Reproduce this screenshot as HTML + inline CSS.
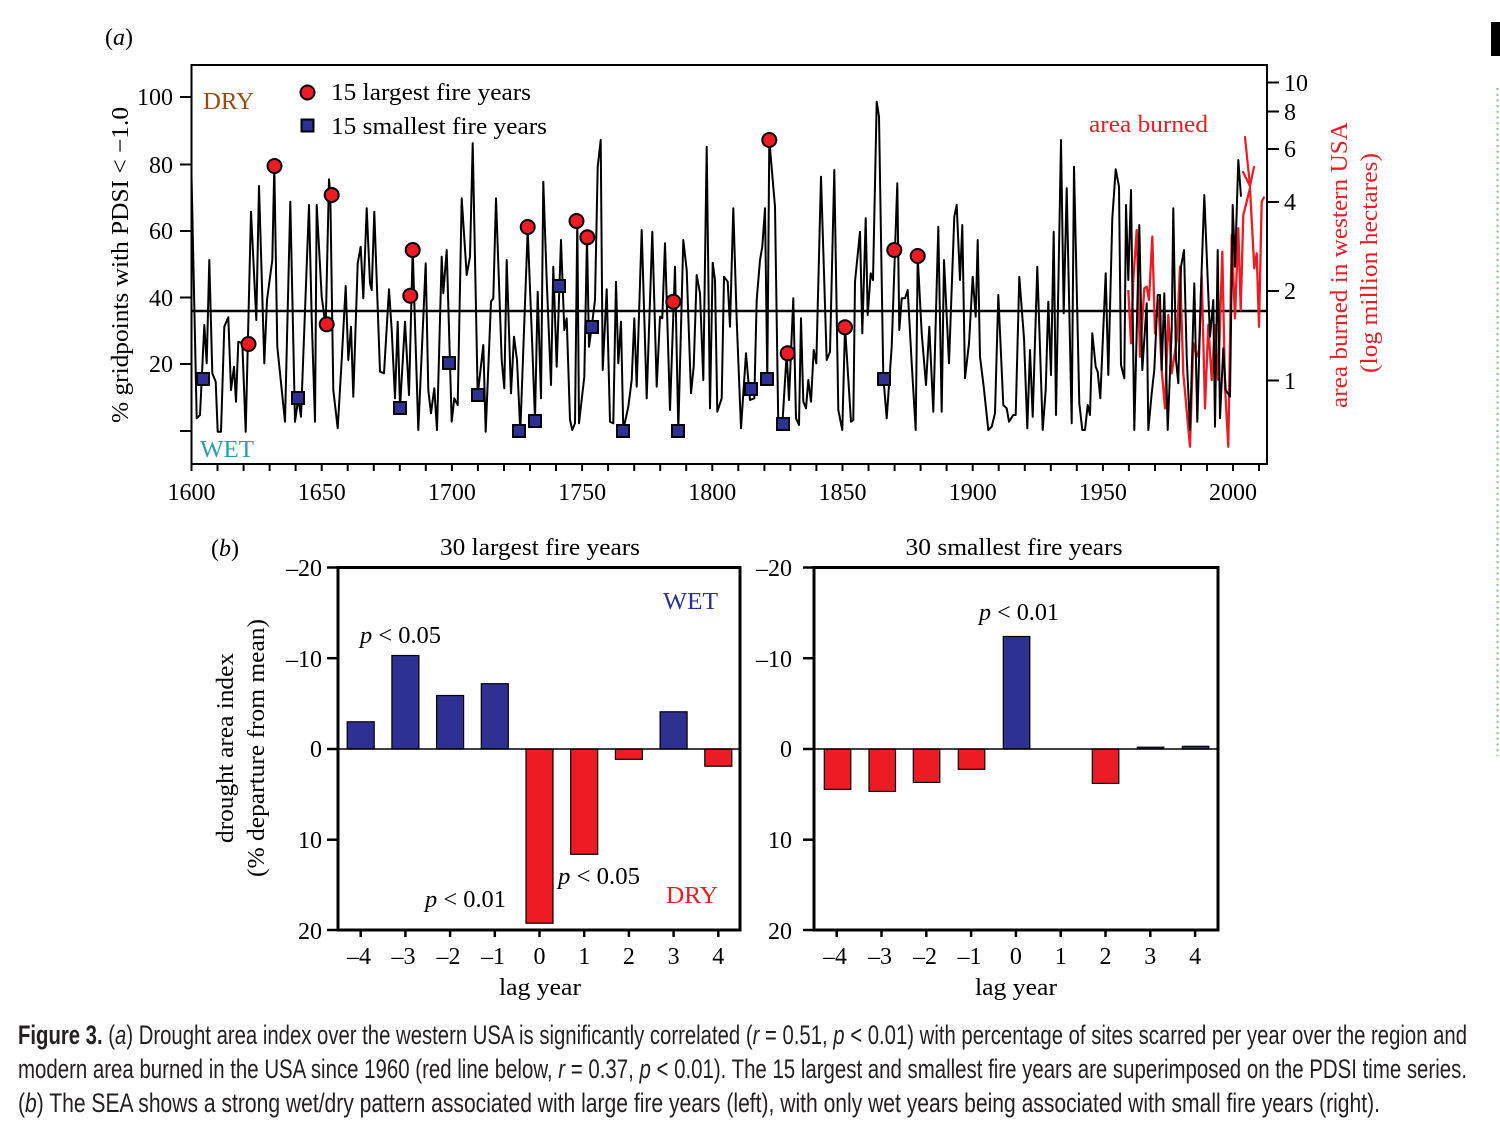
<!DOCTYPE html>
<html>
<head>
<meta charset="utf-8">
<style>
html,body{margin:0;padding:0;background:#fff;}
svg{display:block;}
.serif{font-family:"Liberation Serif","Times New Roman",serif;}
.cap{font-family:"Liberation Sans Narrow","Liberation Sans",sans-serif;fill:#231f20;}
</style>
</head>
<body>
<svg width="1500" height="1146" viewBox="0 0 1500 1146" xmlns="http://www.w3.org/2000/svg">
<rect x="0" y="0" width="1500" height="1146" fill="#fff"/>

<!-- top-right artifacts -->
<rect x="1491" y="22" width="9" height="34" fill="#000"/>
<line x1="1497.5" y1="88" x2="1497.5" y2="756" stroke="#7cc47c" stroke-width="2" stroke-dasharray="2 3.7"/>

<g class="serif">
<!-- ============ PANEL A ============ -->
<text x="105" y="45" font-size="24" fill="#000">(<tspan font-style="italic">a</tspan>)</text>

<!-- frame -->
<rect x="191.5" y="65" width="1075.5" height="399" fill="none" stroke="#000" stroke-width="2"/>

<!-- left y ticks -->
<g stroke="#000" stroke-width="2">
<line x1="180" y1="97" x2="191" y2="97"/>
<line x1="180" y1="164.5" x2="191" y2="164.5"/>
<line x1="180" y1="231" x2="191" y2="231"/>
<line x1="180" y1="297.5" x2="191" y2="297.5"/>
<line x1="180" y1="364" x2="191" y2="364"/>
<line x1="180" y1="431" x2="191" y2="431"/>
</g>
<g font-size="24" fill="#000" text-anchor="end">
<text x="173" y="105">100</text>
<text x="173" y="173">80</text>
<text x="173" y="239">60</text>
<text x="173" y="306">40</text>
<text x="173" y="372">20</text>
</g>

<!-- bottom x ticks every 10 years -->
<g stroke="#000" stroke-width="2">
<line x1="191.5" y1="464" x2="191.5" y2="471"/><line x1="217.5" y1="464" x2="217.5" y2="471"/><line x1="243.6" y1="464" x2="243.6" y2="471"/><line x1="269.6" y1="464" x2="269.6" y2="471"/><line x1="295.6" y1="464" x2="295.6" y2="471"/><line x1="321.7" y1="464" x2="321.7" y2="471"/><line x1="347.7" y1="464" x2="347.7" y2="471"/><line x1="373.8" y1="464" x2="373.8" y2="471"/><line x1="399.8" y1="464" x2="399.8" y2="471"/><line x1="425.8" y1="464" x2="425.8" y2="471"/><line x1="451.9" y1="464" x2="451.9" y2="471"/><line x1="477.9" y1="464" x2="477.9" y2="471"/><line x1="504" y1="464" x2="504" y2="471"/><line x1="530" y1="464" x2="530" y2="471"/><line x1="556" y1="464" x2="556" y2="471"/><line x1="582.1" y1="464" x2="582.1" y2="471"/><line x1="608.1" y1="464" x2="608.1" y2="471"/><line x1="634.2" y1="464" x2="634.2" y2="471"/><line x1="660.2" y1="464" x2="660.2" y2="471"/><line x1="686.2" y1="464" x2="686.2" y2="471"/><line x1="712.3" y1="464" x2="712.3" y2="471"/><line x1="738.3" y1="464" x2="738.3" y2="471"/><line x1="764.4" y1="464" x2="764.4" y2="471"/><line x1="790.4" y1="464" x2="790.4" y2="471"/><line x1="816.4" y1="464" x2="816.4" y2="471"/><line x1="842.5" y1="464" x2="842.5" y2="471"/><line x1="868.5" y1="464" x2="868.5" y2="471"/><line x1="894.6" y1="464" x2="894.6" y2="471"/><line x1="920.6" y1="464" x2="920.6" y2="471"/><line x1="946.6" y1="464" x2="946.6" y2="471"/><line x1="972.7" y1="464" x2="972.7" y2="471"/><line x1="998.7" y1="464" x2="998.7" y2="471"/><line x1="1024.8" y1="464" x2="1024.8" y2="471"/><line x1="1050.8" y1="464" x2="1050.8" y2="471"/><line x1="1076.8" y1="464" x2="1076.8" y2="471"/><line x1="1102.9" y1="464" x2="1102.9" y2="471"/><line x1="1128.9" y1="464" x2="1128.9" y2="471"/><line x1="1155" y1="464" x2="1155" y2="471"/><line x1="1181" y1="464" x2="1181" y2="471"/><line x1="1207" y1="464" x2="1207" y2="471"/><line x1="1233" y1="464" x2="1233" y2="471"/><line x1="1259" y1="464" x2="1259" y2="471"/>
</g>
<g font-size="24" fill="#000" text-anchor="middle">
<text x="191.5" y="500">1600</text>
<text x="321.7" y="500">1650</text>
<text x="451.9" y="500">1700</text>
<text x="582.1" y="500">1750</text>
<text x="712.3" y="500">1800</text>
<text x="842.5" y="500">1850</text>
<text x="972.7" y="500">1900</text>
<text x="1102.9" y="500">1950</text>
<text x="1233" y="500">2000</text>
</g>

<!-- right axis ticks -->
<g stroke="#000" stroke-width="2">
<line x1="1267" y1="82.5" x2="1279" y2="82.5"/>
<line x1="1267" y1="111.5" x2="1279" y2="111.5"/>
<line x1="1267" y1="149" x2="1279" y2="149"/>
<line x1="1267" y1="202" x2="1279" y2="202"/>
<line x1="1267" y1="291" x2="1279" y2="291"/>
<line x1="1267" y1="380.5" x2="1279" y2="380.5"/>
</g>
<g font-size="24" fill="#000">
<text x="1284" y="91">10</text>
<text x="1284" y="120">8</text>
<text x="1284" y="157">6</text>
<text x="1284" y="210">4</text>
<text x="1284" y="299">2</text>
<text x="1284" y="389">1</text>
</g>

<!-- axis labels -->
<text transform="translate(128,265) rotate(-90)" font-size="24" fill="#000" text-anchor="middle" textLength="316" lengthAdjust="spacingAndGlyphs">% gridpoints with PDSI &lt; −1.0</text>
<text transform="translate(1347,265) rotate(-90)" font-size="24" fill="#ed1c24" text-anchor="middle" textLength="286" lengthAdjust="spacingAndGlyphs">area burned in western USA</text>
<text transform="translate(1377,263) rotate(-90)" font-size="24" fill="#ed1c24" text-anchor="middle" textLength="220" lengthAdjust="spacingAndGlyphs">(log million hectares)</text>

<!-- annotations -->
<text x="203" y="109" font-size="24" fill="#9c4a12" textLength="51" lengthAdjust="spacingAndGlyphs">DRY</text>
<text x="200" y="457" font-size="24" fill="#2a9db0" textLength="54" lengthAdjust="spacingAndGlyphs">WET</text>
<text x="1089" y="132" font-size="24" fill="#ed1c24" textLength="119" lengthAdjust="spacingAndGlyphs">area burned</text>

<!-- legend -->
<circle cx="307.5" cy="92.5" r="7" fill="#ed1c24" stroke="#000" stroke-width="2"/>
<text x="331" y="100" font-size="24" fill="#000" textLength="200" lengthAdjust="spacingAndGlyphs">15 largest fire years</text>
<rect x="301.5" y="119.5" width="12" height="12" fill="#2e3192" stroke="#000" stroke-width="2"/>
<text x="331" y="134" font-size="24" fill="#000" textLength="216" lengthAdjust="spacingAndGlyphs">15 smallest fire years</text>

<!-- mean line -->
<line x1="191.5" y1="311" x2="1267" y2="311" stroke="#000" stroke-width="2.5"/>

<!-- red area burned series -->
<polyline fill="none" stroke="#ed1c24" stroke-width="2.3" stroke-linejoin="round" points="1128.3,290 1131,343.3 1133.3,280 1136.7,230 1140,356.7 1144.3,288.3 1146.7,286.7 1149,300 1152.3,236.7 1155,333.3 1158.3,300 1161.7,370 1165,408.3 1168.3,315 1171.7,373.3 1176.7,340 1180,266.7 1183.3,373.3 1188.3,428.3 1190,446.7 1193.3,343.3 1196.7,356.7 1199,350 1201.7,275 1205,408.3 1208.3,325 1211.7,380 1215,325 1218.3,380 1222.3,251.7 1225,386.7 1228.3,446.7 1231.7,235 1235,318.3 1238.3,228.3 1240.7,310 1243.3,215 1246.7,201.7 1250,188.3 1254.3,268.3 1256.7,253.3 1259,326.7 1261.7,201.7 1264.3,196.7"/>
<!-- arrow -->
<g stroke="#ed1c24" stroke-width="2.2" fill="none" stroke-linecap="round">
<line x1="1245" y1="137" x2="1250" y2="186"/>
<polyline points="1243,172 1250,186 1254,167"/>
</g>

<!-- black PDSI series -->
<polyline fill="none" stroke="#000" stroke-width="2" stroke-linejoin="round" points="191.5,175 196.7,418.3 200,415 204.3,325 206.7,363.3 209.3,260 212.3,373.3 215.7,381.7 217.7,431.7 221,431.7 224.3,326.7 228.3,317.3 231,390 234,366.7 236,401.7 238.3,341.7 242.3,343.3 245.7,431.7 251,211.7 255,293.3 256.3,320 259,186 264.3,363.3 267,300 272.3,260 274.3,166.7 277.3,346.7 285,421.7 290.3,201.7 295,421.7 298.3,398.3 301,416.7 309,205 311.7,318.3 315,421.7 316.7,205 321.7,296.7 325.7,326.7 329,179.3 330.3,195 333.3,390 337.7,428.3 341.7,360 345.7,286 348.3,360 351,326.7 353.3,396.7 357.7,263.3 360.7,246.7 363.3,298.3 366.7,208.3 370,283.3 371.7,290 374.3,211.7 376.7,280 380,371.7 384,373.3 389,289.3 391.7,330 395,398.3 397.7,321.7 400,408.3 405,321.7 409,395 412.7,250 415.7,346.7 418.3,430 425.7,263.3 428.3,390 431,413.3 434.3,388.3 437,430 441.7,256.7 443.3,293.3 446.7,250 450,363.3 451.7,421.7 454.3,398.3 457.7,405 461.7,198.3 466.7,275 470,256.7 472.7,143.3 477.7,395 483.3,345 485.7,431.7 491,301.7 493.3,298.3 496,198.3 501.7,360 504.3,388.3 506.7,260 511,393.3 514,336.7 517,360 520.3,431.7 527.7,230 532.3,346.7 535,420 537.7,291.7 541,398.3 543.3,181.7 546.7,280 551,385 553.3,266.7 556.7,366.7 561,240 564.3,330 566.7,318.3 570,420 572.3,430 575,423.3 577.3,220 579,423.3 584.3,376.7 587,236.7 589,346.7 591.7,326.7 595,300 597.7,166.7 600.7,140 602.7,370 606.7,289.3 610,421.7 613.3,423.3 616,281.7 618.3,363.3 621,321.7 623.3,430 628.3,406.7 631.7,380 634.3,318.3 636.7,386.7 641.7,230 646.7,398.3 652.3,231.7 656.7,386.7 660,316.7 662.3,318.3 665,243.3 670,410 675,266.7 678.3,430 683.3,240 686.7,270 691,393.3 693.7,366.7 696.7,275 700,293.3 703.3,380 706.7,146.7 710,408.3 712.7,262.7 715,280 717.3,411.7 721.7,398.3 724,276.7 727.7,281.7 730,326.7 733.3,208.3 736.7,320 741,428.3 746,353.3 750,400 754.3,398.3 756.7,300 760,260 762.3,246.7 765,208.3 767.3,378.3 769.3,140 775,206.7 778.3,425 782.3,425 786.7,353.3 789,400 793.3,298.3 796,418.3 799,425 801,318.3 803.3,401.7 806,408.3 808.3,380 811,401.7 813.7,350 816.3,363.3 821,176.7 826.7,360 830,351.7 834.3,170 838.3,410 842.3,430 845,326.7 851,421.7 853.3,420 855,281.7 860,231.7 862.3,333.3 865.7,218.3 867.7,315 870.7,273.3 873,280 876.7,101.7 879,116.7 883.3,376.7 886.7,418.3 891.7,346.7 895,250 897.3,183.3 899.3,330 901.7,298.3 905,298.3 907.7,290 911.7,363.3 915.7,430 917.7,256.7 921.7,333.3 926,385 929.3,326.7 933.3,411.7 938.3,226.7 941.7,411.7 944,260 949,363.3 954.3,216.7 956.7,205 960,280 962.3,225 965,378.3 969,343.3 972.7,276.7 975.7,316.7 977.7,240 980,356.7 983.7,386.7 988.3,430 991.7,426.7 995,413.3 998.3,295 1003.3,405 1006.7,408.3 1009,421.7 1013.3,415 1015.7,415 1019.3,276.7 1024,338.3 1027.3,428.3 1030,350 1032.7,416.7 1037.3,266.7 1042.7,430 1045.7,390 1048.3,301.7 1051,375 1053.7,231.7 1056,415 1061,140 1063.7,313.3 1066.7,188.3 1071.7,423.3 1074,166.7 1079.3,403.3 1082.3,430 1085,430 1087.7,405 1090,415 1092.3,333.3 1095.7,366.7 1097.7,371.7 1100.3,398.3 1105.7,273.3 1108.3,375 1112.3,218.3 1115.7,169.3 1119,186.7 1121,365 1124.3,378.3 1126,205 1128.3,280 1131,190 1134.3,430 1139.3,225 1142.3,370 1146.7,303.3 1148.3,430 1151.7,393.3 1154.3,370 1157.7,295 1160,295 1161.7,370 1164.3,293.3 1167.7,430 1171.7,330 1173.3,208.3 1176,360 1178.3,383.3 1181,266.7 1184,250 1186.7,356.7 1190,430 1194.3,283.3 1197.3,421.7 1201,288.3 1204.3,195 1210,336.7 1213.3,300 1215,426.7 1217.7,250 1220,418.3 1223.3,348.3 1225.7,390 1230,396.7 1232.7,205 1235,266.7 1238.3,160 1241,196.7"/>

<!-- blue squares (smallest fire years) -->
<g fill="#2e3192" stroke="#000" stroke-width="2">
<rect x="197" y="373" width="12" height="12"/>
<rect x="292" y="392" width="12" height="12"/>
<rect x="394" y="402" width="12" height="12"/>
<rect x="443" y="357" width="12" height="12"/>
<rect x="472" y="389" width="12" height="12"/>
<rect x="513" y="425" width="12" height="12"/>
<rect x="529" y="415" width="12" height="12"/>
<rect x="553" y="280" width="12" height="12"/>
<rect x="586" y="321" width="12" height="12"/>
<rect x="617" y="425" width="12" height="12"/>
<rect x="672" y="425" width="12" height="12"/>
<rect x="745" y="383" width="12" height="12"/>
<rect x="761" y="373" width="12" height="12"/>
<rect x="777" y="418" width="12" height="12"/>
<rect x="878" y="373" width="12" height="12"/>
</g>
<!-- red circles (largest fire years) -->
<g fill="#ed1c24" stroke="#000" stroke-width="2">
<circle cx="274.5" cy="166" r="7"/>
<circle cx="248.5" cy="344" r="7"/>
<circle cx="331.7" cy="195" r="7"/>
<circle cx="326.7" cy="324.3" r="7"/>
<circle cx="412.7" cy="250" r="7"/>
<circle cx="410.3" cy="295.7" r="7"/>
<circle cx="527.7" cy="227" r="7"/>
<circle cx="576.5" cy="221" r="7"/>
<circle cx="587.3" cy="237.3" r="7"/>
<circle cx="673.3" cy="301.7" r="7"/>
<circle cx="769.3" cy="140" r="7"/>
<circle cx="787.7" cy="353.3" r="7"/>
<circle cx="845" cy="327.3" r="7"/>
<circle cx="894.3" cy="250" r="7"/>
<circle cx="917.7" cy="256" r="7"/>
</g>

<!-- ============ PANEL B ============ -->
<text x="211" y="556" font-size="24" fill="#000">(<tspan font-style="italic">b</tspan>)</text>

<text x="540" y="555" font-size="24" fill="#000" text-anchor="middle" textLength="200" lengthAdjust="spacingAndGlyphs">30 largest fire years</text>
<text x="1014" y="555" font-size="24" fill="#000" text-anchor="middle" textLength="217" lengthAdjust="spacingAndGlyphs">30 smallest fire years</text>

<text transform="translate(233,748) rotate(-90)" font-size="24" fill="#000" text-anchor="middle" textLength="190" lengthAdjust="spacingAndGlyphs">drought area index</text>
<text transform="translate(264,748) rotate(-90)" font-size="24" fill="#000" text-anchor="middle" textLength="258" lengthAdjust="spacingAndGlyphs">(% departure from mean)</text>

<!-- left panel bars -->
<g stroke="#000" stroke-width="1.2">
<rect x="347.2" y="721.8" width="27" height="27.2" fill="#2e3192"/>
<rect x="391.9" y="655.5" width="27" height="93.5" fill="#2e3192"/>
<rect x="436.6" y="695.5" width="27" height="53.5" fill="#2e3192"/>
<rect x="481.3" y="683.7" width="27" height="65.3" fill="#2e3192"/>
<rect x="526" y="749" width="27" height="174.2" fill="#ed1c24"/>
<rect x="570.7" y="749" width="27" height="105.3" fill="#ed1c24"/>
<rect x="615.4" y="749" width="27" height="10.3" fill="#ed1c24"/>
<rect x="660.1" y="711.8" width="27" height="37.2" fill="#2e3192"/>
<rect x="704.8" y="749" width="27" height="17.2" fill="#ed1c24"/>
</g>
<line x1="338" y1="749" x2="740" y2="749" stroke="#000" stroke-width="1.5"/>
<rect x="338" y="567.5" width="402" height="362.5" fill="none" stroke="#000" stroke-width="3"/>

<!-- left panel ticks -->
<g stroke="#000" stroke-width="2.5">
<line x1="327" y1="567.5" x2="338" y2="567.5"/>
<line x1="327" y1="658.2" x2="338" y2="658.2"/>
<line x1="327" y1="749" x2="338" y2="749"/>
<line x1="327" y1="839.7" x2="338" y2="839.7"/>
<line x1="327" y1="930" x2="338" y2="930"/>
<line x1="360.7" y1="930" x2="360.7" y2="937"/>
<line x1="405.4" y1="930" x2="405.4" y2="937"/>
<line x1="450.1" y1="930" x2="450.1" y2="937"/>
<line x1="494.8" y1="930" x2="494.8" y2="937"/>
<line x1="539.5" y1="930" x2="539.5" y2="937"/>
<line x1="584.2" y1="930" x2="584.2" y2="937"/>
<line x1="628.9" y1="930" x2="628.9" y2="937"/>
<line x1="673.6" y1="930" x2="673.6" y2="937"/>
<line x1="718.3" y1="930" x2="718.3" y2="937"/>
</g>
<g font-size="24" fill="#000" text-anchor="end">
<text x="322" y="576">–20</text>
<text x="322" y="667">–10</text>
<text x="322" y="757">0</text>
<text x="322" y="848">10</text>
<text x="322" y="939">20</text>
</g>
<g font-size="24" fill="#000" text-anchor="middle">
<text x="359" y="964">–4</text>
<text x="403.5" y="964">–3</text>
<text x="448.5" y="964">–2</text>
<text x="493" y="964">–1</text>
<text x="539.5" y="964">0</text>
<text x="584.2" y="964">1</text>
<text x="628.9" y="964">2</text>
<text x="673.6" y="964">3</text>
<text x="718.3" y="964">4</text>
</g>
<text x="540" y="995" font-size="24" fill="#000" text-anchor="middle" textLength="82" lengthAdjust="spacingAndGlyphs">lag year</text>

<text x="663" y="609" font-size="24" fill="#2e3192" textLength="55" lengthAdjust="spacingAndGlyphs">WET</text>
<text x="666" y="903" font-size="24" fill="#ed1c24" textLength="52" lengthAdjust="spacingAndGlyphs">DRY</text>
<text x="360" y="643" font-size="24" fill="#000" textLength="81" lengthAdjust="spacingAndGlyphs"><tspan font-style="italic">p</tspan> &lt; 0.05</text>
<text x="425" y="907" font-size="24" fill="#000" textLength="81" lengthAdjust="spacingAndGlyphs"><tspan font-style="italic">p</tspan> &lt; 0.01</text>
<text x="558" y="884" font-size="24" fill="#000" textLength="82" lengthAdjust="spacingAndGlyphs"><tspan font-style="italic">p</tspan> &lt; 0.05</text>

<!-- right panel bars -->
<g stroke="#000" stroke-width="1.2">
<rect x="824.3" y="749" width="26.5" height="40.4" fill="#ed1c24"/>
<rect x="869" y="749" width="26.5" height="42.4" fill="#ed1c24"/>
<rect x="913.3" y="749" width="26.5" height="33.4" fill="#ed1c24"/>
<rect x="958.3" y="749" width="26.5" height="20.3" fill="#ed1c24"/>
<rect x="1003.3" y="636.5" width="26.5" height="112.5" fill="#2e3192"/>
<rect x="1092.3" y="749" width="26.5" height="34.4" fill="#ed1c24"/>
<rect x="1137.3" y="747.2" width="26.5" height="1.8" fill="#2e3192"/>
<rect x="1182.3" y="746.3" width="26.5" height="2.7" fill="#2e3192"/>
</g>
<line x1="814" y1="749" x2="1218" y2="749" stroke="#000" stroke-width="1.5"/>
<rect x="814" y="567.5" width="404" height="362.5" fill="none" stroke="#000" stroke-width="3"/>

<g stroke="#000" stroke-width="2.5">
<line x1="803" y1="567.5" x2="814" y2="567.5"/>
<line x1="803" y1="658.2" x2="814" y2="658.2"/>
<line x1="803" y1="749" x2="814" y2="749"/>
<line x1="803" y1="839.7" x2="814" y2="839.7"/>
<line x1="803" y1="930" x2="814" y2="930"/>
<line x1="836.7" y1="930" x2="836.7" y2="937"/>
<line x1="881.5" y1="930" x2="881.5" y2="937"/>
<line x1="926.3" y1="930" x2="926.3" y2="937"/>
<line x1="971.1" y1="930" x2="971.1" y2="937"/>
<line x1="1015.9" y1="930" x2="1015.9" y2="937"/>
<line x1="1060.7" y1="930" x2="1060.7" y2="937"/>
<line x1="1105.5" y1="930" x2="1105.5" y2="937"/>
<line x1="1150.3" y1="930" x2="1150.3" y2="937"/>
<line x1="1195.1" y1="930" x2="1195.1" y2="937"/>
</g>
<g font-size="24" fill="#000" text-anchor="end">
<text x="792" y="576">–20</text>
<text x="792" y="667">–10</text>
<text x="792" y="757">0</text>
<text x="792" y="848">10</text>
<text x="792" y="939">20</text>
</g>
<g font-size="24" fill="#000" text-anchor="middle">
<text x="835" y="964">–4</text>
<text x="880" y="964">–3</text>
<text x="925" y="964">–2</text>
<text x="969.5" y="964">–1</text>
<text x="1015.9" y="964">0</text>
<text x="1060.7" y="964">1</text>
<text x="1105.5" y="964">2</text>
<text x="1150.3" y="964">3</text>
<text x="1195.1" y="964">4</text>
</g>
<text x="1016" y="995" font-size="24" fill="#000" text-anchor="middle" textLength="82" lengthAdjust="spacingAndGlyphs">lag year</text>
<text x="979" y="620" font-size="24" fill="#000" textLength="80" lengthAdjust="spacingAndGlyphs"><tspan font-style="italic">p</tspan> &lt; 0.01</text>
</g>

<!-- ============ CAPTION ============ -->
<g class="cap" font-size="27">
<text x="18" y="1044" textLength="1449" lengthAdjust="spacingAndGlyphs"><tspan font-weight="bold">Figure 3.</tspan> (<tspan font-style="italic">a</tspan>) Drought area index over the western USA is significantly correlated (<tspan font-style="italic">r</tspan> = 0.51, <tspan font-style="italic">p</tspan> &lt; 0.01) with percentage of sites scarred per year over the region and</text>
<text x="18" y="1078" textLength="1449" lengthAdjust="spacingAndGlyphs">modern area burned in the USA since 1960 (red line below, <tspan font-style="italic">r</tspan> = 0.37, <tspan font-style="italic">p</tspan> &lt; 0.01). The 15 largest and smallest fire years are superimposed on the PDSI time series.</text>
<text x="18" y="1112" textLength="1362" lengthAdjust="spacingAndGlyphs">(<tspan font-style="italic">b</tspan>) The SEA shows a strong wet/dry pattern associated with large fire years (left), with only wet years being associated with small fire years (right).</text>
</g>
</svg>
</body>
</html>
